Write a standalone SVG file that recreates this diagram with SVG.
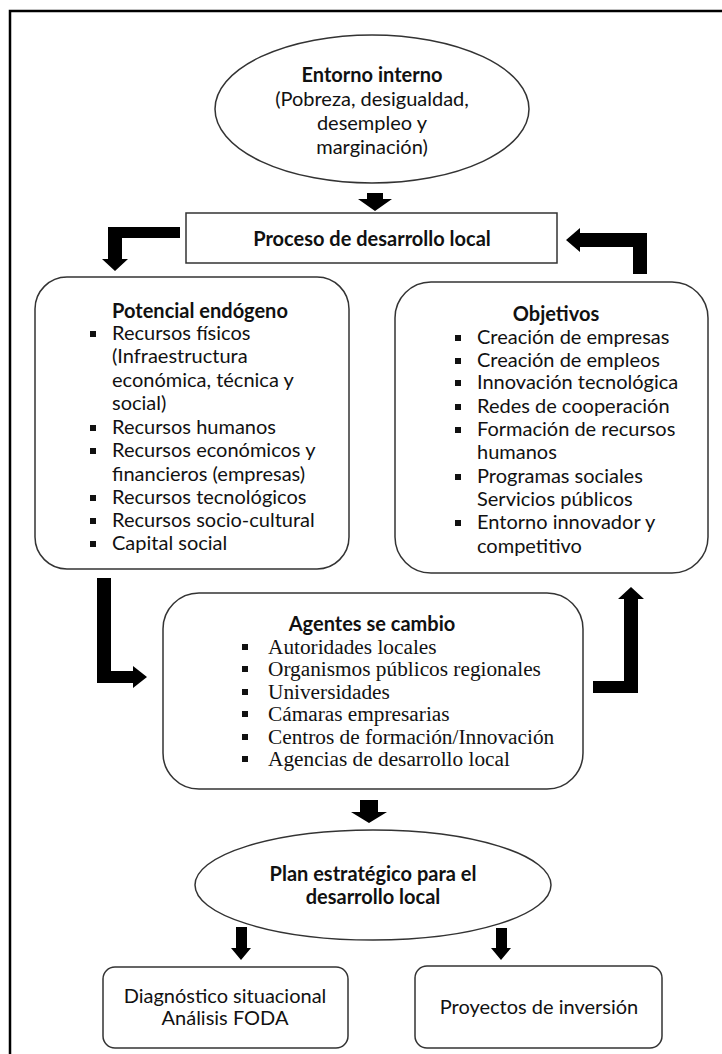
<svg xmlns="http://www.w3.org/2000/svg" width="722" height="1054" viewBox="0 0 722 1054">
<style>
.box{fill:#fff;stroke:#333;stroke-width:1.5}
.t{font-family:Lato,"Open Sans","Liberation Sans",sans-serif;font-size:20px;fill:#111}
.b{font-weight:bold;text-anchor:middle}
.c{text-anchor:middle}
.s{font-family:"Liberation Serif","Times New Roman",serif;font-size:21.3px;fill:#111}
.arr{fill:#000}
.bul{fill:#111}
</style>
<rect width="722" height="1054" fill="#fff"/>
<path d="M10,1060 V11 H730" fill="none" stroke="#000" stroke-width="2.5"/>

<g id="entorno">
<ellipse class="box" cx="372" cy="109" rx="157" ry="74"/>
<text class="t b" x="372" y="82">Entorno interno</text>
<text class="t c" x="372" y="106">(Pobreza, desigualdad,</text>
<text class="t c" x="372" y="130">desempleo y</text>
<text class="t c" x="372" y="154">marginación)</text>
</g>

<g id="proceso">
<rect class="box" x="186" y="213" width="371" height="50"/>
<text class="t b" x="372" y="246">Proceso de desarrollo local</text>
</g>

<g id="potencial">
<rect class="box" x="35" y="277" width="314" height="292" rx="32"/>
<text class="t b" x="200" y="318">Potencial endógeno</text>
<g class="bul">
<rect x="90" y="331" width="6" height="6"/>
<rect x="90" y="425" width="6" height="6"/>
<rect x="90" y="448" width="6" height="6"/>
<rect x="90" y="495" width="6" height="6"/>
<rect x="90" y="518" width="6" height="6"/>
<rect x="90" y="541" width="6" height="6"/>
</g>
<text class="t" x="112" y="340">Recursos físicos</text>
<text class="t" x="112" y="363">(Infraestructura</text>
<text class="t" x="112" y="387">económica, técnica y</text>
<text class="t" x="112" y="410">social)</text>
<text class="t" x="112" y="434">Recursos humanos</text>
<text class="t" x="112" y="457">Recursos económicos y</text>
<text class="t" x="112" y="481">financieros (empresas)</text>
<text class="t" x="112" y="504">Recursos tecnológicos</text>
<text class="t" x="112" y="527">Recursos socio-cultural</text>
<text class="t" x="112" y="550">Capital social</text>
</g>

<g id="objetivos">
<rect class="box" x="395" y="282" width="313" height="291" rx="36"/>
<text class="t b" x="556" y="321">Objetivos</text>
<g class="bul">
<rect x="455" y="335" width="6" height="6"/>
<rect x="455" y="358" width="6" height="6"/>
<rect x="455" y="380" width="6" height="6"/>
<rect x="455" y="404" width="6" height="6"/>
<rect x="455" y="427" width="6" height="6"/>
<rect x="455" y="474" width="6" height="6"/>
<rect x="455" y="520" width="6" height="6"/>
</g>
<text class="t" x="477" y="344">Creación de empresas</text>
<text class="t" x="477" y="367">Creación de empleos</text>
<text class="t" x="477" y="389">Innovación tecnológica</text>
<text class="t" x="477" y="413">Redes de cooperación</text>
<text class="t" x="477" y="436">Formación de recursos</text>
<text class="t" x="477" y="459">humanos</text>
<text class="t" x="477" y="483">Programas sociales</text>
<text class="t" x="477" y="506">Servicios públicos</text>
<text class="t" x="477" y="529">Entorno innovador y</text>
<text class="t" x="477" y="553">competitivo</text>
</g>

<g id="agentes">
<rect class="box" x="163" y="593" width="420" height="196" rx="36"/>
<text class="t b" x="372" y="631">Agentes se cambio</text>
<g class="bul">
<rect x="242" y="644" width="6" height="6"/>
<rect x="242" y="666" width="6" height="6"/>
<rect x="242" y="689" width="6" height="6"/>
<rect x="242" y="711" width="6" height="6"/>
<rect x="242" y="734" width="6" height="6"/>
<rect x="242" y="756" width="6" height="6"/>
</g>
<text class="s" x="268" y="654">Autoridades locales</text>
<text class="s" x="268" y="676">Organismos públicos regionales</text>
<text class="s" x="268" y="699">Universidades</text>
<text class="s" x="268" y="721">Cámaras empresarias</text>
<text class="s" x="268" y="744">Centros de formación/Innovación</text>
<text class="s" x="268" y="766">Agencias de desarrollo local</text>
</g>

<g id="plan">
<ellipse class="box" cx="373" cy="885" rx="178" ry="55"/>
<text class="t b" x="373" y="881">Plan estratégico para el</text>
<text class="t b" x="373" y="904">desarrollo local</text>
</g>

<g id="diagnostico">
<rect class="box" x="103" y="967" width="245" height="81" rx="12"/>
<text class="t c" x="225" y="1003">Diagnóstico situacional</text>
<text class="t c" x="225" y="1025">Análisis FODA</text>
</g>

<g id="proyectos">
<rect class="box" x="415" y="966" width="247" height="82" rx="12"/>
<text class="t c" x="539" y="1014">Proyectos de inversión</text>
</g>

<g id="connectors">
<polygon class="arr" points="367,193 383,193 383,199 392,199 375,211 358,199 367,199"/>
<polygon class="arr" points="180,227 108,227 108,259 102,259 115,271 128,259 122,259 122,238 180,238"/>
<polygon class="arr" points="647,274 647,233 580,233 580,228 566,240 580,252 580,247 633,247 633,274"/>
<polygon class="arr" points="97,578 111,578 111,671 133,671 133,666 147,677 133,688 133,683 97,683"/>
<polygon class="arr" points="593,681 624,681 624,599 618,599 631,587 644,599 638,599 638,693 593,693"/>
<polygon class="arr" points="360,800 378,800 378,812 387,812 369,823 351,812 360,812"/>
<polygon class="arr" points="236,927 247,927 247,948 251,948 241,960 231,948 236,948"/>
<polygon class="arr" points="496,928 507,928 507,948 511,948 501,960 491,948 496,948"/>
</g>
</svg>
